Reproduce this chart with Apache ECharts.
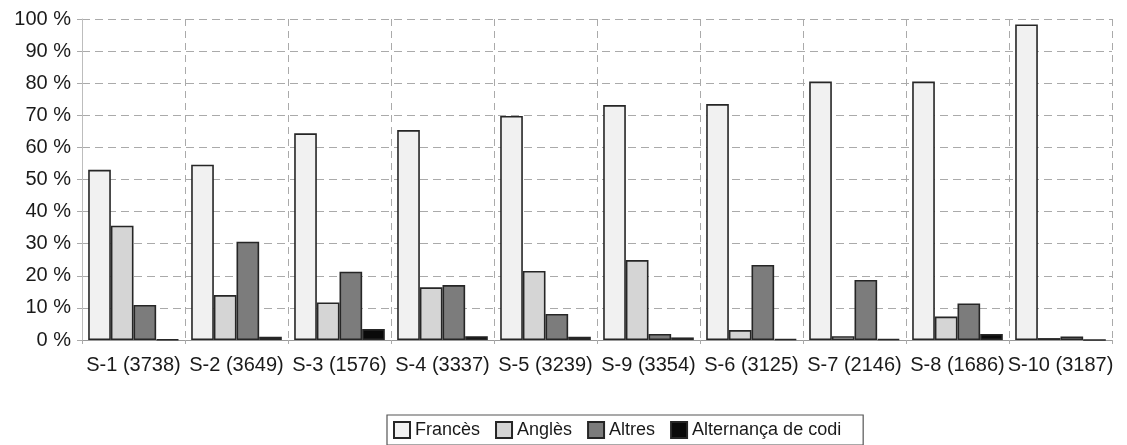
<!DOCTYPE html>
<html>
<head>
<meta charset="utf-8">
<style>
  html, body { margin: 0; padding: 0; background: #fff; }
  #chart { width: 1127px; height: 445px; }
</style>
<script src="https://cdn.jsdelivr.net/npm/echarts@6/dist/echarts.min.js"></script>
</head>
<body>
<div id="chart"></div>
<script>
// Language share per speaker session (total utterances in brackets)
const categories = ['S-1 (3738)', 'S-2 (3649)', 'S-3 (1576)', 'S-4 (3337)', 'S-5 (3239)',
                    'S-9 (3354)', 'S-6 (3125)', 'S-7 (2146)', 'S-8 (1686)', 'S-10 (3187)'];
const frances    = [53.0, 54.6, 64.4, 65.4, 69.8, 73.2, 73.5, 80.5, 80.5, 98.3];
const angles     = [35.6, 14.0, 11.7, 16.4, 21.5, 24.9, 3.1, 1.2, 7.3, 0.6];
const altres     = [10.9, 30.6, 21.3, 17.1, 8.1, 1.9, 23.4, 18.7, 11.4, 1.1];
const alternanca = [0.2, 1.0, 3.4, 1.2, 1.0, 0.8, 0.3, 0.3, 1.9, 0];
const yTicks = { min: 0, max: 100, interval: 10 };

const FONT = '"Liberation Sans", Arial, Helvetica, sans-serif';
const barBorder = { borderColor: '#262626', borderWidth: 1.6 };

function barSeries(name, data, fill) {
  return {
    name: name,
    type: 'bar',
    data: data,
    barGap: '0%',
    barCategoryGap: '12%',
    itemStyle: Object.assign({ color: fill }, barBorder),
    emphasis: { disabled: true }
  };
}

const chart = echarts.init(document.getElementById('chart'), null, { renderer: 'canvas' });
chart.setOption({
  animation: false,
  backgroundColor: '#ffffff',
  textStyle: { fontFamily: FONT },
  grid: { left: 82, right: 15, top: 19, bottom: 105, containLabel: false },
  legend: {
    left: 387,
    top: 415,
    orient: 'horizontal',
    itemWidth: 16,
    itemHeight: 16,
    itemGap: 15,
    padding: [6, 22, 6, 6],
    borderColor: '#555',
    borderWidth: 1.2,
    icon: 'rect',
    textStyle: { fontFamily: FONT, fontSize: 18, color: '#1a1a1a' },
    data: ['Francès', 'Anglès', 'Altres', 'Alternança de codi']
  },
  xAxis: {
    type: 'category',
    data: categories,
    boundaryGap: true,
    axisLine: { show: true, lineStyle: { color: '#9a9a9a', width: 1.2 } },
    axisTick: { show: true, length: 6, alignWithLabel: false, lineStyle: { color: '#aaa', type: 'dashed' } },
    axisLabel: { margin: 15, fontFamily: FONT, fontSize: 20, color: '#1a1a1a', interval: 0 },
    splitLine: { show: true, interval: 0, lineStyle: { color: '#aaaaaa', type: [7, 5], width: 1 } }
  },
  yAxis: {
    type: 'value',
    min: yTicks.min,
    max: yTicks.max,
    interval: yTicks.interval,
    axisLine: { show: true, lineStyle: { color: '#bdbdbd', width: 1 } },
    axisTick: { show: true, length: 5, lineStyle: { color: '#aaa' } },
    axisLabel: { margin: 11, fontFamily: FONT, fontSize: 20, color: '#1a1a1a', formatter: '{value} %' },
    splitLine: { show: true, lineStyle: { color: '#aaaaaa', type: [8, 5], width: 1 } }
  },
  series: [
    barSeries('Francès', frances, '#f1f1f1'),
    barSeries('Anglès', angles, '#d5d5d5'),
    barSeries('Altres', altres, '#7c7c7c'),
    barSeries('Alternança de codi', alternanca, '#0a0a0a')
  ]
});
</script>
</body>
</html>
